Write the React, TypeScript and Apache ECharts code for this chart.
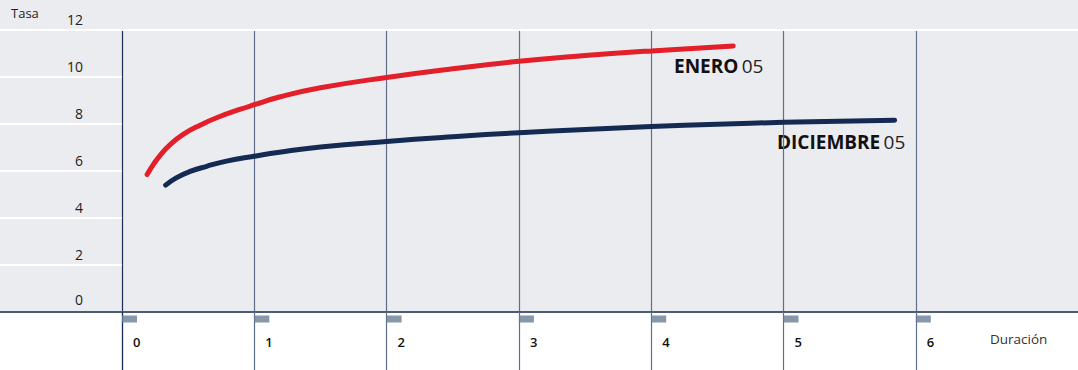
import { useEffect, useRef } from "react";
import * as echarts from "echarts";

// Duration ticks (x) and rate ticks (y)
const durations = [0, 1, 2, 3, 4, 5, 6];
const rateGuides = [2, 4, 6, 8, 10, 12];

// ENERO 05 yield curve
const eneroX = [0.19, 0.24, 0.29, 0.36, 0.46, 0.59, 0.74, 0.89, 1.0, 1.19, 1.5, 2.0, 2.5, 3.0, 3.5, 4.0, 4.62];
const eneroY = [5.85, 6.3, 6.68, 7.1, 7.55, 7.95, 8.32, 8.62, 8.82, 9.15, 9.54, 9.98, 10.35, 10.67, 10.91, 11.11, 11.32];

// DICIEMBRE 05 yield curve
const diciembreX = [0.33, 0.41, 0.51, 0.64, 0.79, 1.0, 1.19, 1.5, 2.0, 2.5, 3.0, 3.5, 4.0, 4.5, 5.0, 5.84];
const diciembreY = [5.4, 5.71, 5.97, 6.2, 6.42, 6.63, 6.8, 7.02, 7.26, 7.46, 7.63, 7.77, 7.89, 7.99, 8.07, 8.16];

const FONT = "'Open Sans', 'Noto Sans', sans-serif";
const X_MAX = 7.226;

export default function App() {
  const ref = useRef<HTMLDivElement>(null);

  useEffect(() => {
    document.body.style.margin = "0";
    if (!ref.current) return;
    const chart = echarts.init(ref.current, undefined, { renderer: "svg" });

    // first guide (duration 0) darker than the others
    const verticalColors = ["#1c2c55", "#5f6e8b", "#5f6e8b", "#5f6e8b", "#5f6e8b", "#5f6e8b", "#5f6e8b"];
    const richLabel = {
      b: { fontFamily: FONT, fontSize: 19, fontWeight: "bold", fill: "#111111" },
      r: { fontFamily: FONT, fontSize: 19, fontWeight: "normal", fill: "#222222" },
    };
    const rateText = { fontFamily: FONT, fontSize: 14, fill: "#222222", color: "#222222" };

    chart.setOption({
      animation: false,
      backgroundColor: "#ffffff",
      grid: { left: 122, right: 0, top: 30, bottom: 58, containLabel: false },
      xAxis: [
        {
          type: "value",
          position: "bottom",
          min: 0,
          max: X_MAX,
          interval: 1,
          axisLine: { show: true, onZero: false, lineStyle: { color: "#4b5b78", width: 2 } },
          axisTick: {
            show: true,
            inside: false,
            length: 58,
            customValues: durations,
            lineStyle: { color: "#5f6e8b", width: 1.2 },
          },
          axisLabel: {
            margin: 23,
            align: "left",
            padding: [0, 0, 0, 11],
            fontFamily: FONT,
            fontSize: 13,
            fontWeight: 600,
            color: "#111111",
            customValues: durations,
          },
          splitLine: {
            show: true,
            showMinLine: true,
            showMaxLine: true,
            lineStyle: { color: verticalColors, width: 1.2 },
          },
        },
        {
          type: "value",
          position: "bottom",
          min: 0,
          max: X_MAX,
          interval: 1,
          axisLine: { show: false, onZero: false },
          axisTick: {
            show: true,
            inside: false,
            length: 58,
            customValues: [0],
            lineStyle: { color: "#1c2c55", width: 1.2 },
          },
          axisLabel: { show: false },
          splitLine: { show: false },
        },
        {
          type: "value",
          position: "top",
          min: 0,
          max: X_MAX,
          interval: 1,
          axisLine: { show: true, onZero: false, lineStyle: { color: "#ffffff", width: 2 } },
          axisTick: { show: false },
          axisLabel: { show: false },
          splitLine: { show: false },
        },
      ],
      yAxis: [
        {
          type: "value",
          position: "left",
          min: 0,
          max: 12,
          interval: 2,
          axisLine: { show: false, onZero: false },
          axisTick: {
            show: true,
            inside: false,
            length: 122,
            customValues: rateGuides,
            lineStyle: { color: "#ffffff", width: 2 },
          },
          axisLabel: {
            margin: 39,
            verticalAlign: "bottom",
            lineHeight: 22,
            formatter: (v: number) => (v === 0 ? "{z|0}" : "{n|" + v + "}"),
            rich: {
              n: { ...rateText, lineHeight: 22 },
              z: { ...rateText, lineHeight: 22, padding: [0, 0, 4, 0] },
            },
          },
          splitLine: { show: false },
        },
        {
          type: "value",
          position: "left",
          min: 0,
          max: 12,
          interval: 2,
          axisLine: { show: false, onZero: false },
          axisTick: {
            show: true,
            inside: false,
            length: 122,
            customValues: [0],
            lineStyle: { color: "#4b5b78", width: 2 },
          },
          axisLabel: { show: false },
          splitLine: { show: false },
        },
      ],
      graphic: [
        {
          type: "rect",
          left: 0,
          top: 0,
          z: -100,
          shape: { width: 1078, height: 313 },
          style: { fill: "#ebecf0" },
          silent: true,
        },
        {
          type: "text",
          left: 11,
          top: 6,
          style: { text: "Tasa", fontFamily: FONT, fontSize: 13, fill: "#222222" },
        },
        {
          type: "text",
          left: 990,
          top: 332,
          style: { text: "Duración", fontFamily: FONT, fontSize: 13.5, fill: "#333333" },
        },
        {
          type: "text",
          left: 674,
          top: 56,
          style: { text: "{b|ENERO} {r|05}", rich: richLabel },
        },
        {
          type: "text",
          left: 777,
          top: 132,
          style: { text: "{b|DICIEMBRE} {r|05}", rich: richLabel },
        },
      ],
      series: [
        {
          name: "tick markers",
          type: "scatter",
          xAxisIndex: 0,
          yAxisIndex: 0,
          silent: true,
          clip: false,
          symbol: "rect",
          symbolSize: [15, 7],
          symbolOffset: [7.5, 7],
          itemStyle: { color: "#687e95" },
          data: durations.map((d) => [d, 0]),
          z: 1,
        },
        {
          name: "DICIEMBRE 05",
          type: "line",
          xAxisIndex: 0,
          yAxisIndex: 0,
          smooth: 0.5,
          showSymbol: false,
          lineStyle: { color: "#142a52", width: 5, cap: "round" },
          data: diciembreX.map((x, i) => [x, diciembreY[i]]),
        },
        {
          name: "ENERO 05",
          type: "line",
          xAxisIndex: 0,
          yAxisIndex: 0,
          smooth: 0.5,
          showSymbol: false,
          lineStyle: { color: "#e31f2a", width: 5, cap: "round" },
          data: eneroX.map((x, i) => [x, eneroY[i]]),
        },
      ],
    });

    return () => chart.dispose();
  }, []);

  return <div ref={ref} style={{ width: 1078, height: 370 }} />;
}
